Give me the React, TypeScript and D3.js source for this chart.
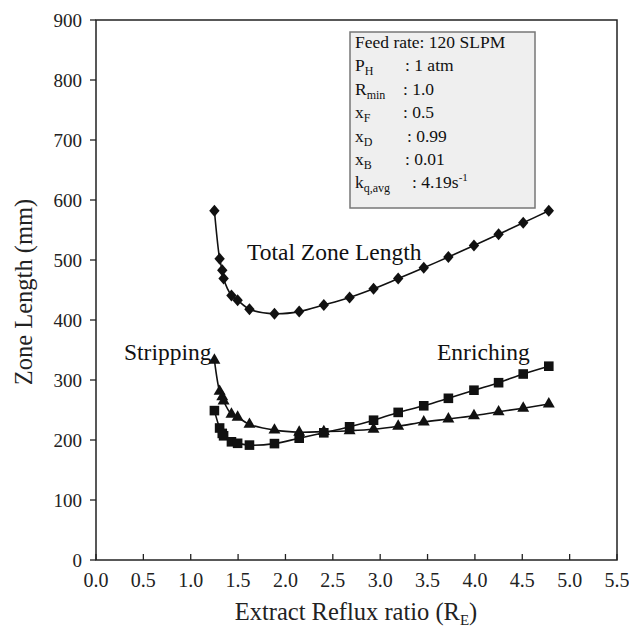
import React from "react";
import * as d3 from "d3";

// Extract reflux ratio (shared by all series)
const refluxRatio = [1.25, 1.305, 1.333, 1.347, 1.43, 1.495, 1.62, 1.884, 2.145, 2.405, 2.677, 2.93, 3.19, 3.46, 3.72, 3.99, 4.25, 4.51, 4.78];
// Zone lengths in mm
const totalLength = [582, 502, 483, 469, 441, 433, 418, 410.5, 414, 425, 437.5, 452, 469, 487, 505, 524, 543, 562, 582];
const strippingLength = [333, 281, 272, 265, 243, 238, 226, 216.5, 213, 214, 215.5, 218, 223, 230, 235, 240.5, 247, 253, 260];
const enrichingLength = [249, 220, 211, 207, 197, 194.5, 191.5, 194, 203, 212, 222, 233, 246, 257, 269.5, 283, 295.5, 310, 323];

const xTicks = [0, 0.5, 1, 1.5, 2, 2.5, 3, 3.5, 4, 4.5, 5, 5.5];
const yTicks = [0, 100, 200, 300, 400, 500, 600, 700, 800, 900];

const W = 629;
const H = 627;
const M = { left: 96, right: 617, top: 20, bottom: 560 };
const FONT = "'Liberation Serif', 'Times New Roman', serif";

const x = d3.scaleLinear().domain([0, 5.5]).range([M.left, M.right]);
const y = d3.scaleLinear().domain([0, 900]).range([M.bottom, M.top]);

const line = d3
  .line<[number, number]>()
  .x((d) => x(d[0]))
  .y((d) => y(d[1]))
  .curve(d3.curveCatmullRom.alpha(0.5));

const pairs = (vals: number[]) => refluxRatio.map((r, i) => [r, vals[i]] as [number, number]);

const diamond = "M0,-6L5.2,0L0,6L-5.2,0Z";
const square = "M-4.8,-4.8H4.8V4.8H-4.8Z";
const triangle = d3.symbol(d3.symbolTriangle, 62)() as string;

function Series({ vals, marker }: { vals: number[]; marker: string }) {
  const pts = pairs(vals);
  return (
    <g>
      <path d={line(pts) as string} fill="none" stroke="#111" strokeWidth={1.6} />
      {pts.map((p, i) => (
        <path key={i} d={marker} transform={`translate(${x(p[0])},${y(p[1])})`} fill="#111" />
      ))}
    </g>
  );
}

// Operating-condition rows: label, subscript, value, colon x-position
const condLabels = ["P", "R", "x", "x", "x", "k"];
const condSubs = ["H", "min", "F", "D", "B", "q,avg"];
const condValues = [": 1 atm", ": 1.0", ": 0.5", ": 0.99", ": 0.01", ": 4.19s"];
const condColonX = [405, 403, 403, 407, 405, 412];

export default function App() {
  const boxX = 350;
  const boxY = 32;
  const rowH = 23.4;
  const fs = 17.5;
  return (
    <div style={{ position: "absolute", left: 0, top: 0 }}>
      <svg width={W} height={H} style={{ display: "block", background: "#fff" }} fontFamily={FONT}>
        {/* frame */}
        <rect x={M.left} y={M.top} width={M.right - M.left} height={M.bottom - M.top} fill="none" stroke="#222" strokeWidth={1.5} />

        {/* y axis ticks and labels */}
        {yTicks.map((t) => (
          <g key={t}>
            <line x1={M.left - 6} x2={M.left} y1={y(t)} y2={y(t)} stroke="#222" strokeWidth={1.3} />
            <text x={M.left - 14} y={y(t)} dy="0.35em" textAnchor="end" fontSize={19} fill="#222">
              {t}
            </text>
          </g>
        ))}

        {/* x axis ticks and labels */}
        {xTicks.map((t) => (
          <g key={t}>
            <line x1={x(t)} x2={x(t)} y1={M.bottom} y2={M.bottom - 6} stroke="#222" strokeWidth={1.3} />
            <text x={x(t)} y={587} textAnchor="middle" fontSize={20} fill="#222">
              {t.toFixed(1)}
            </text>
          </g>
        ))}

        {/* axis titles */}
        <text x={356} y={620} textAnchor="middle" fontSize={24.5} fill="#222">
          Extract Reflux ratio (R
          <tspan fontSize={15} dy={5}>E</tspan>
          <tspan dy={-5}>)</tspan>
        </text>
        <text transform="translate(32,292) rotate(-90)" textAnchor="middle" fontSize={24.5} fill="#222">
          Zone Length (mm)
        </text>

        {/* conditions box */}
        <rect x={boxX} y={boxY} width={185} height={176} fill="#efefef" stroke="#777" strokeWidth={1.5} />
        <text x={boxX + 5} y={boxY + 16} fontSize={fs} fill="#111">
          Feed rate: 120 SLPM
        </text>
        {condLabels.map((lab, i) => (
          <g key={i}>
            <text x={boxX + 5} y={boxY + 16 + rowH * (i + 1)} fontSize={fs} fill="#111">
              {lab}
              <tspan fontSize={12} dy={4}>{condSubs[i]}</tspan>
            </text>
            <text x={condColonX[i]} y={boxY + 16 + rowH * (i + 1)} fontSize={fs} fill="#111">
              {condValues[i]}
              {i === 5 ? (
                <tspan fontSize={11} dy={-7}>-1</tspan>
              ) : null}
            </text>
          </g>
        ))}

        {/* data series */}
        <Series vals={totalLength} marker={diamond} />
        <Series vals={strippingLength} marker={triangle} />
        <Series vals={enrichingLength} marker={square} />

        {/* curve labels */}
        <text x={247} y={260} fontSize={23.5} fill="#111">Total Zone Length</text>
        <text x={124} y={360} fontSize={23.5} fill="#111">Stripping</text>
        <text x={437} y={360} fontSize={23.5} fill="#111">Enriching</text>
      </svg>
    </div>
  );
}
